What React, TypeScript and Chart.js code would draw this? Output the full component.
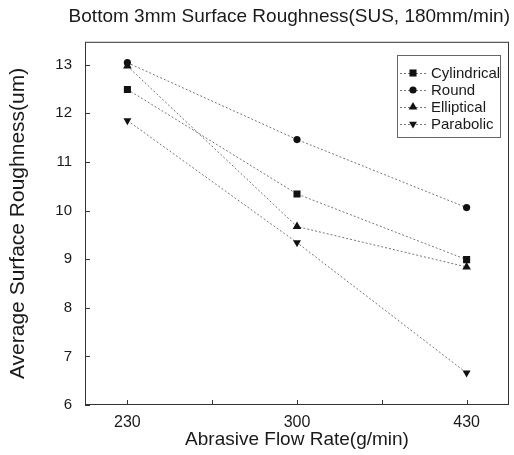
import React, { useEffect, useRef } from 'react';
import { Chart, registerables } from 'chart.js';
import { drawPoint } from 'chart.js/helpers';

Chart.register(...registerables);

const categories = ['230', '300', '430'];
const seriesNames = ['Cylindrical', 'Round', 'Elliptical', 'Parabolic'];
const cylindrical = [12.49, 10.34, 8.99];
const round = [13.04, 11.46, 10.06];
const elliptical = [12.97, 9.67, 8.84];
const parabolic = [11.85, 9.34, 6.66];
const yTicks = [6, 7, 8, 9, 10, 11, 12, 13];
const xTicks = [0, 0.5, 1, 1.5, 2];

const FONT = '"Liberation Sans", Arial, sans-serif';
const TEXT = '#1a1a1a';

const styles = [
  { pointStyle: 'rect', radius: 5, rotation: 0 },
  { pointStyle: 'circle', radius: 3.6, rotation: 0 },
  { pointStyle: 'triangle', radius: 5, rotation: 0 },
  { pointStyle: 'triangle', radius: 4.6, rotation: 180 },
];

const frameAndTicks = {
  id: 'frameAndTicks',
  afterDraw(chart: any) {
    const { ctx, chartArea } = chart;
    const xs = chart.scales.x;
    const ys = chart.scales.y;
    ctx.save();
    ctx.strokeStyle = '#333';
    ctx.lineWidth = 1;
    ctx.strokeRect(chartArea.left + 0.5, chartArea.top + 0.5, chartArea.right - chartArea.left - 1, chartArea.bottom - chartArea.top - 1);
    ctx.beginPath();
    xTicks.forEach((v) => {
      const px = Math.round(xs.getPixelForValue(v)) + 0.5;
      ctx.moveTo(px, chartArea.bottom);
      ctx.lineTo(px, chartArea.bottom - 5);
    });
    yTicks.forEach((v) => {
      const py = Math.round(ys.getPixelForValue(v)) + 0.5;
      ctx.moveTo(chartArea.left, py);
      ctx.lineTo(chartArea.left + 5, py);
    });
    ctx.stroke();

    // legend
    const bx = 397, by = 55, bw = 103, bh = 82;
    ctx.strokeStyle = '#666';
    ctx.lineWidth = 1;
    ctx.strokeRect(bx + 0.5, by + 0.5, bw, bh);
    ctx.font = `15px ${FONT}`;
    ctx.fillStyle = TEXT;
    ctx.textBaseline = 'middle';
    ctx.textAlign = 'left';
    chart.data.datasets.forEach((ds: any, i: number) => {
      const y = by + 18 + i * 17;
      ctx.save();
      ctx.strokeStyle = '#777';
      ctx.setLineDash([2, 2]);
      ctx.beginPath();
      ctx.moveTo(bx + 3, y + 0.5);
      ctx.lineTo(bx + 31, y + 0.5);
      ctx.stroke();
      ctx.restore();
      ctx.fillStyle = '#111';
      ctx.strokeStyle = '#111';
      drawPoint(ctx, { pointStyle: styles[i].pointStyle, radius: styles[i].radius, rotation: styles[i].rotation, borderWidth: 0 } as any, bx + 16, y);
      ctx.fillStyle = TEXT;
      ctx.fillText(ds.label, bx + 34, y + 1);
    });
    ctx.restore();
  },
};

export default function App() {
  const ref = useRef<HTMLCanvasElement | null>(null);
  useEffect(() => {
    if (!ref.current) return;
    const all = [cylindrical, round, elliptical, parabolic];
    const chart = new Chart(ref.current, {
      type: 'line',
      data: {
        datasets: all.map((vals, i) => ({
          label: seriesNames[i],
          data: vals.map((v, j) => ({ x: j, y: v })),
          borderColor: '#777',
          borderWidth: 1,
          borderDash: [2, 2],
          backgroundColor: '#111',
          pointBackgroundColor: '#111',
          pointBorderColor: '#111',
          pointBorderWidth: 0,
          pointStyle: styles[i].pointStyle as any,
          pointRadius: styles[i].radius,
          pointRotation: styles[i].rotation,
          tension: 0,
          fill: false,
        })),
      },
      plugins: [frameAndTicks],
      options: {
        animation: false,
        responsive: false,
        maintainAspectRatio: false,
        layout: { padding: { left: 0, right: 4, top: 0, bottom: 0 } },
        plugins: {
          legend: { display: false },
          tooltip: { enabled: false },
          title: {
            display: true,
            align: 'end',
            text: 'Bottom 3mm Surface Roughness(SUS, 180mm/min)',
            font: { family: FONT, size: 19, weight: 'normal' },
            color: TEXT,
            padding: { top: 5, bottom: 14 },
          },
        },
        scales: {
          x: {
            type: 'linear',
            min: -0.25,
            max: 2.25,
            grid: { display: false, drawTicks: false },
            border: { display: false },
            afterBuildTicks: (scale: any) => {
              scale.ticks = xTicks.map((v) => ({ value: v }));
            },
            afterFit: (scale: any) => {
              scale.height = 50;
            },
            ticks: {
              autoSkip: false,
              maxRotation: 0,
              padding: 8,
              color: TEXT,
              font: { family: FONT, size: 16 },
              callback: (v: any) => (Number.isInteger(v) ? categories[v] : ''),
            },
            title: {
              display: true,
              text: 'Abrasive Flow Rate(g/min)',
              color: TEXT,
              font: { family: FONT, size: 19 },
              padding: { top: 0, bottom: 4 },
            },
          },
          y: {
            type: 'linear',
            min: 6,
            max: 13.47,
            grid: { display: false, drawTicks: false },
            border: { display: false },
            afterBuildTicks: (scale: any) => {
              scale.ticks = yTicks.map((v) => ({ value: v }));
            },
            afterFit: (scale: any) => {
              scale.width = 85;
            },
            ticks: {
              padding: 13,
              color: TEXT,
              font: { family: FONT, size: 15 },
            },
            title: {
              display: true,
              text: 'Average Surface Roughness(um)',
              color: TEXT,
              font: { family: FONT, size: 21 },
              padding: { top: 6, bottom: 0 },
            },
          },
        },
      },
    });
    return () => chart.destroy();
  }, []);
  return (
    <div style={{ position: 'fixed', left: 0, top: 0, width: 514, height: 455, background: '#fff' }}>
      <canvas ref={ref} width={514} height={455} style={{ display: 'block', width: 514, height: 455 }} />
    </div>
  );
}
